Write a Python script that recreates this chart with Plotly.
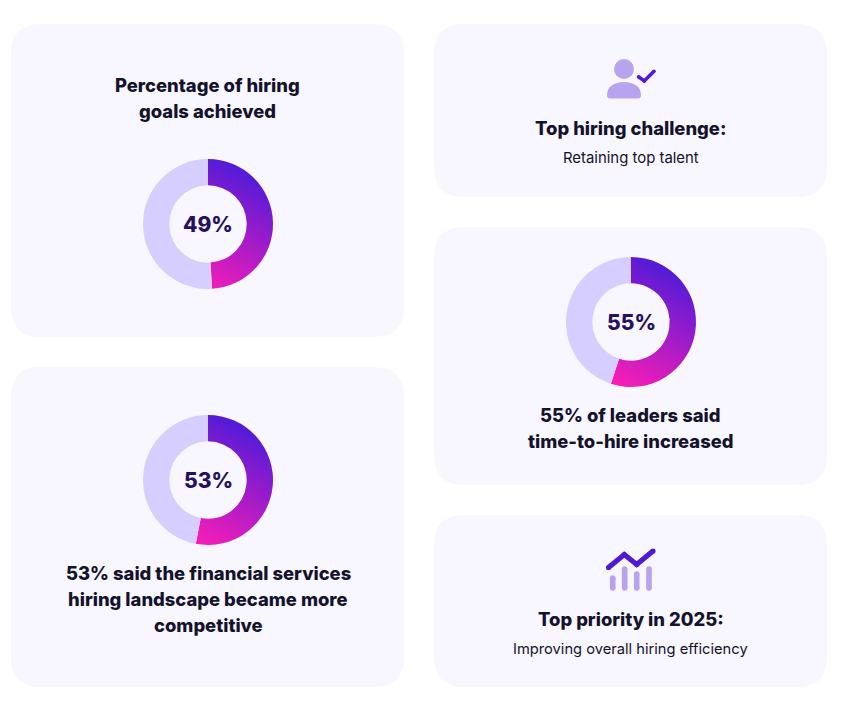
import plotly.graph_objects as go

# --- Data ---
donut_values = [49, 53, 55]
donut_labels = ["49%", "53%", "55%"]
remainders = [51, 47, 45]

title_lines_1 = ["Percentage of hiring", "goals achieved"]
title_lines_2 = ["53% said the financial services", "hiring landscape became more", "competitive"]
title_lines_3 = ["55% of leaders said", "time-to-hire increased"]
challenge_title = "Top hiring challenge:"
challenge_text = "Retaining top talent"
priority_title = "Top priority in 2025:"
priority_text = "Improving overall hiring efficiency"

# colours
CARD = "#F8F6FF"
RING = "#D5CEFF"
GRAD_START = "#4F1BD8"
GRAD_END = "#FA1DB6"
DARK = "#14132B"
PCT = "#24105F"
ICON_DARK = "#5019D6"
ICON_LIGHT = "#B7A3EE"
FONT = "Inter"

W, H = 842, 705


def card_path(x0, y0, x1, y1, r=30):
    return (f"M{x0+r},{y0} L{x1-r},{y0} Q{x1},{y0} {x1},{y0+r} L{x1},{y1-r} Q{x1},{y1} {x1-r},{y1} "
            f"L{x0+r},{y1} Q{x0},{y1} {x0},{y1-r} L{x0},{y0+r} Q{x0},{y0} {x0+r},{y0} Z")


fig = go.Figure()

# --- Cards ---
cards = [(11, 24, 404, 337), (11, 367, 404, 687), (434, 24, 827, 197), (434, 227, 827, 485), (434, 515, 827, 687)]
shapes = [dict(type="path", path=card_path(*c), xref="x", yref="y", fillcolor=CARD, line_width=0, layer="below") for c in cards]

# person icon
shapes.append(dict(type="circle", xref="x", yref="y", x0=614, x1=634, y0=59, y1=79, fillcolor=ICON_LIGHT, line_width=0, layer="below"))
shapes.append(dict(type="path", xref="x", yref="y", fillcolor=ICON_LIGHT, line_width=0, layer="below",
                   path="M607,95 C607,87 614,82 624,82 C634,82 641,87 641,95 Q641,98.5 638,98.5 L610,98.5 Q607,98.5 607,95 Z"))

# --- Donuts ---
centers = [(208, 224), (208, 480), (631, 322)]
R = 65
for val, rest, (cx, cy) in zip(donut_values, remainders, centers):
    fig.add_trace(go.Pie(
        values=[val, rest],
        sort=False, direction="clockwise", rotation=0,
        hole=0.595, textinfo="none", showlegend=False, hoverinfo="skip",
        marker=dict(colors=[GRAD_START, RING], line=dict(width=0)),
        domain=dict(x=[(cx - R) / W, (cx + R) / W], y=[1 - (cy + R) / H, 1 - (cy - R) / H]),
    ))

# --- Icons ---
def stroke(xs, ys, color, width):
    fig.add_trace(go.Scatter(x=xs, y=ys, mode="lines+markers", hoverinfo="skip", showlegend=False,
                             line=dict(color=color, width=width),
                             marker=dict(color=color, size=width, line_width=0)))


stroke([638.5, 644.3, 654], [76.8, 81, 71.2], ICON_DARK, 3.6)
stroke([608.5, 624.3, 636.7, 653], [567.5, 554.5, 564.5, 551], ICON_DARK, 5.2)
for bx, top in [(612.7, 578), (624.7, 569), (636.7, 574), (649, 569)]:
    stroke([bx, bx], [top, 588], ICON_LIGHT, 5.6)

# --- Text ---
def label(x, y, text, size, weight=800, color=DARK):
    fig.add_annotation(x=x, y=y, xref="x", yref="y", text=text, showarrow=False, xanchor="center", yanchor="middle",
                       font=dict(family=FONT, size=size, weight=weight, color=color))


TITLE = 18.4
for i, line in enumerate(title_lines_1):
    label(207.5, 85 + 26 * i, line, TITLE)
for i, line in enumerate(title_lines_2):
    label(208, 573 + 26 * i, line, TITLE)
for i, line in enumerate(title_lines_3):
    label(630.5, 415 + 26 * i, line, TITLE)
label(630.5, 128, challenge_title, TITLE)
label(630.5, 158, challenge_text, 14.9, 400)
label(630.5, 619, priority_title, TITLE)
label(630.5, 649, priority_text, 14.7, 400)
for txt, (cx, cy) in zip(donut_labels, centers):
    label(cx, cy, txt, 21, 800, PCT)

fig.update_layout(
    width=W, height=H, margin=dict(l=0, r=0, t=0, b=0),
    paper_bgcolor="white", plot_bgcolor="white", shapes=shapes,
    xaxis=dict(range=[0, W], visible=False, fixedrange=True),
    yaxis=dict(range=[H, 0], visible=False, fixedrange=True),
)

# plotly pies only take flat colours, so swap the first slice fill for a gradient once drawn
post_script = f"""
document.body.style.margin = '0';
var gd = document.getElementById('{{plot_id}}');
var svg = gd.querySelector('svg.main-svg');
var ns = 'http://www.w3.org/2000/svg';
var defs = svg.querySelector('defs');
gd.querySelectorAll('.pielayer g.trace').forEach(function (p, i) {{
  var paths = p.querySelectorAll('g.slice path.surface');
  var a = paths[0].getBBox(), b = paths[1].getBBox();
  var right = a.x + a.width, left = b.x;
  var r = (right - left) / 2, cx = (right + left) / 2, cy = a.y + r;
  var g = document.createElementNS(ns, 'linearGradient');
  g.setAttribute('id', 'ringgrad' + i);
  g.setAttribute('gradientUnits', 'userSpaceOnUse');
  g.setAttribute('x1', cx + 0.77 * r); g.setAttribute('y1', cy - 0.77 * r);
  g.setAttribute('x2', cx - 0.15 * r); g.setAttribute('y2', cy + r);
  [['0', '{GRAD_START}'], ['1', '{GRAD_END}']].forEach(function (s) {{
    var st = document.createElementNS(ns, 'stop');
    st.setAttribute('offset', s[0]); st.setAttribute('stop-color', s[1]);
    g.appendChild(st);
  }});
  defs.appendChild(g);
  paths[0].style.fill = 'url(#ringgrad' + i + ')';
}});
"""

fig.write_html("out.html", post_script=post_script, config=dict(displayModeBar=False))
